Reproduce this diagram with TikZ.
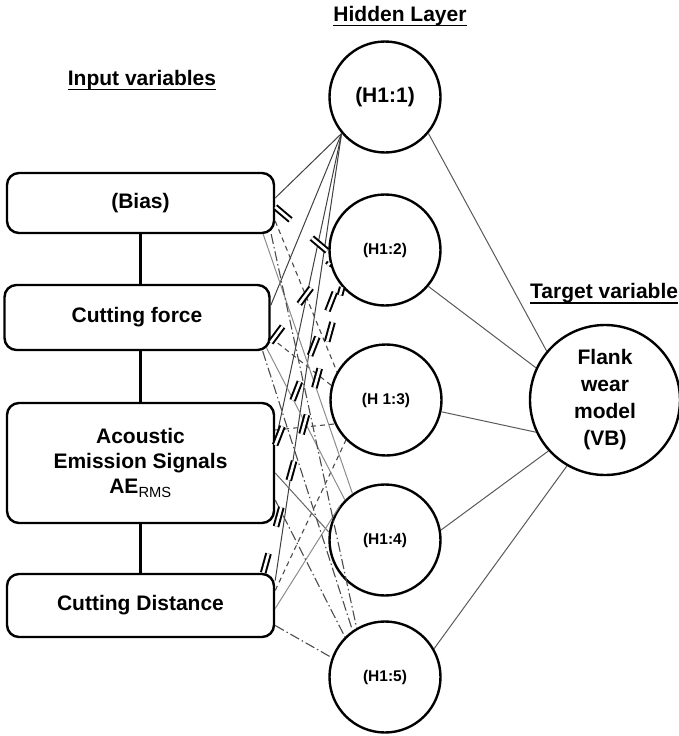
\documentclass[tikz,border=0pt]{standalone}
\usepackage{fontspec}
\setmainfont{Liberation Sans}
\begin{document}
\begin{tikzpicture}[x=1pt,y=-1pt,
  inbox/.style={draw, line width=2.4pt, rounded corners=12pt, inner sep=0pt, font=\fontsize{21}{25}\selectfont\bfseries, align=center},
  hid/.style={draw, circle, fill=white, line width=2.4pt, inner sep=0pt, minimum size=111pt, font=\fontsize{15.5}{18}\selectfont\bfseries},
  ttl/.style={font=\fontsize{21}{25}\selectfont\bfseries, inner sep=0pt},
  uline/.style={draw, line width=1.8pt},
  wsolid/.style={draw=black!75, line width=1pt},
  wgray/.style={draw=black!45, line width=1pt},
  wdash/.style={draw=black!70, line width=1.1pt, dash pattern=on 5pt off 4pt},
  wdashdot/.style={draw=black!70, line width=1.1pt, dash pattern=on 10pt off 3pt on 1.5pt off 3pt},
  wdbl/.style={draw=black, line width=2pt, double=white, double distance=2.6pt, dash pattern=on 20pt off 28pt},
  wout/.style={draw=black!65, line width=1pt},
  vlink/.style={draw, line width=2.4pt}]
\useasboundingbox (0,0) rectangle (679,736);

% titles
\node[ttl, anchor=base] (tin) at (142,85) {Input variables};
\node[ttl, anchor=base] (thid) at (400,21) {Hidden Layer};
\node[ttl, anchor=base west] (ttar) at (530,298) {Target variable};
\draw[uline] (tin.south west) -- (tin.south east);
\draw[uline] (thid.south west) -- (thid.south east);
\draw[uline] (ttar.south west) -- (ttar.south east);

% input boxes
\node[inbox, minimum width=267pt, minimum height=60pt] (bias) at (140.5,203) {(Bias)};
\node[inbox, minimum width=265pt, minimum height=65pt] (cf) at (137,317.5) {Cutting force};
\node[inbox, minimum width=267pt, minimum height=120pt] (ae) at (140.5,463) {Acoustic\\Emission Signals\\AE\textsubscript{\mdseries RMS}};
\node[inbox, minimum width=267pt, minimum height=63pt] (cd) at (140.5,605.5) {Cutting Distance};

\draw[vlink] (bias.south) -- (bias.south |- cf.north);
\draw[vlink] (cf.south -| bias.south) -- (ae.north);
\draw[vlink] (ae.south) -- (cd.north);

% hidden nodes
\node[hid, font=\fontsize{21}{25}\selectfont\bfseries] (h1) at (385,97) {(H1:1)};
\node[hid] (h2) at (385,250) {(H1:2)};
\node[hid] (h3) at (386,400) {(H 1:3)};
\node[hid] (h4) at (385,540) {(H1:4)};
\node[hid] (h5) at (385,677) {(H1:5)};

% output node
\node[draw, circle, line width=2.4pt, inner sep=0pt, minimum size=150pt, align=center,
      font=\fontsize{21}{27}\selectfont\bfseries] (out) at (605,400) {Flank\\wear\\model\\(VB)};

% input -> H1:1 (solid)
\draw[wsolid] (h1.220) -- ([yshift=5pt]bias.east);
\draw[wsolid] (h1.220) -- ([yshift=12pt]cf.east);
\draw[wsolid] (h1.220) -- ([yshift=20pt]ae.east);
\draw[wsolid] (h1.220) -- ([yshift=25pt]cd.east);

% input -> H1:3 (dashed)
\draw[wdash] ([yshift=-18pt]bias.east) -- (h3.150);
\draw[wdash] ([yshift=-20pt]cf.east) -- (h3.165);
\draw[wdash] ([yshift=33pt]ae.east) -- (h3.205);
\draw[wdash] ([yshift=15pt]cd.east) -- (h3.225);

% input -> H1:4 (light solid)
\draw[wgray] ([xshift=-12pt]bias.south east) -- (h4.125);
\draw[wgray] ([xshift=-4pt,yshift=3pt]cf.south east) -- (h4.135);
\draw[wsolid, draw=black!60] ([yshift=-10pt]ae.east) -- (h4.172);
\draw[wgray] ([yshift=-3pt]cd.east) -- (h4.143);

% input -> H1:5 (dash-dot)
\draw[wdashdot] ([xshift=-4pt]bias.south east) -- (h5.120);
\draw[wdashdot] ([xshift=-8pt]cf.south east) -- (h5.125);
\draw[wdashdot] ([yshift=-37pt]ae.east) -- (h5.135);
\draw[wdashdot] ([yshift=-20pt]cd.east) -- (h5.160);

% input -> H1:2 (double dashed)
\draw[wdbl] ([yshift=-4pt]bias.east) -- (h2.182);
\draw[wdbl] ([yshift=-25pt]cf.east) -- (h2.193);
\draw[wdbl] ([yshift=18pt]ae.east) -- (h2.215);
\draw[wdbl] ([xshift=-12pt]cd.north east) -- (h2.221);

% hidden -> output
\draw[wout] (h1.-40) -- (out.140);
\draw[wout] (h2.-40) -- (out.155);
\draw[wout] (h3.-12) -- (out.205);
\draw[wout] (h4.10) -- (out.222);
\draw[wout] (h5.30) -- (out.240);
\end{tikzpicture}
\end{document}
